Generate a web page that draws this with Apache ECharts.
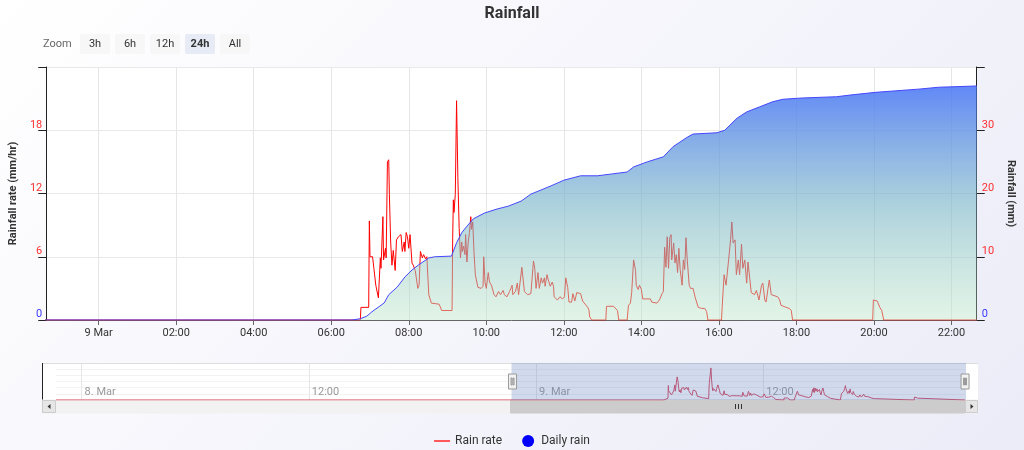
<!DOCTYPE html>
<html><head><meta charset="utf-8">
<script src="https://cdn.jsdelivr.net/npm/echarts@6/dist/echarts.min.js"></script>
<style>
html,body{margin:0;padding:0;}
#c{width:1024px;height:450px;background:linear-gradient(135deg,#ffffff 0%,#f3f3fb 60%,#ececf8 100%);}
</style>
</head><body><div id="c"></div>
<script>
// ---- data (times are minutes relative to 9 Mar 00:00) ----
const navStartMin = -1521;   // 7 Mar 22:39
const winStartMin = -81;     // 8 Mar 22:39
const winEndMin = 1359;      // 9 Mar 22:39

const rateMinutes = [-1521,
 405,406,418,419,420,424,426,429,433,436,437,440,441,444,445,447,449,450,452,454,456,459,461,464,468,470,473,474,476,478,480,482,485,487,490,494,496,498,501,503,506,508,511,515,527,531,547,
 548,549,550,552,554,555,556,558,560,562,563,565,567,568,570,572,574,576,577,579,581,583,587,592,595,596,598,600,603,605,608,612,615,619,622,626,628,632,636,640,641,645,648,650,653,655,658,659,664,669,673,675,677,680,682,685,687,690,691,694,696,699,702,704,705,710,714,718,721,723,726,728,732,734,737,740,743,746,749,753,757,759,760,763,
 785,786,797,800,803,805,
 818,820,823,825,828,831,832,835,837,840,842,854,856,864,868,872,874,876,878,880,882,884,886,887,890,892,894,896,898,900,903,905,907,909,911,914,916,920,923,928,933,938,941,943,
 964,965,968,971,973,975,977,978,980,982,985,987,990,992,995,997,1000,1003,1005,1008,1010,1015,1018,1022,1026,1028,1031,1033,1036,1038,1041,1051,1054,1056,1064,1069,1072,1074,
 1198,1199,1205,1209,1212,1215,1359];
const rateValues = [0,
 0,1.2,1.2,9.4,6.0,6.0,4.9,3.3,2.1,5.9,4.9,9.8,5.7,6.8,5.9,15.0,15.2,11.9,7.4,5.2,6.6,4.7,7.6,7.9,8.1,6.5,7.4,6.5,8.3,7.9,6.8,8.1,5.4,5.2,4.7,3.0,3.3,6.5,5.9,6.2,5.8,6.0,2.4,1.6,1.5,0.9,0.9,
 7.8,11.4,10.2,11.9,20.8,20.8,13.5,8.7,5.9,7.4,6.5,7.0,6.2,8.1,5.5,7.4,8.3,9.8,8.6,9.3,6.4,4.3,3.1,3.0,3.2,6.0,3.6,3.0,4.5,3.6,3.3,2.4,2.2,2.7,2.4,2.8,2.4,2.2,2.7,3.3,2.4,2.7,3.5,2.4,2.4,5.0,5.0,2.7,2.4,2.5,5.6,4.9,3.0,4.5,3.0,4.0,3.5,4.0,3.2,4.3,3.8,3.2,3.6,3.2,2.2,1.9,2.2,2.0,2.2,4.0,3.1,1.7,1.7,2.5,1.8,2.6,2.6,2.5,1.8,1.5,1.2,0.9,0.3,0,
 0,1.3,1.3,1.2,0.9,0,
 0,1.4,1.6,2.6,5.7,4.7,3.3,2.9,3.3,2.9,2.0,2.0,1.7,1.6,1.9,2.5,2.7,6.9,5.0,7.9,4.9,7.8,8.1,5.7,7.3,5.4,6.2,4.5,6.8,4.8,3.3,5.7,4.8,7.8,5.7,3.3,3.0,3.0,2.2,1.2,1.1,1.1,0.8,0,
 0,1.2,4.3,3.3,3.3,5.7,5.8,7.6,9.3,7.3,7.6,4.3,5.7,4.3,7.2,4.9,5.7,3.5,5.5,3.8,2.6,2.4,2.8,1.9,3.3,3.5,1.9,1.7,3.0,3.8,2.4,2.2,1.9,1.4,1.2,1.1,0.9,0,
 0,1.9,1.8,1.2,0.9,0,0];

const rainMinutes = [-1521,392,405,415,423,442,449,462,474,485,495,511,520,546,548,554,562,569,580,597,615,634,654,669,700,720,746,772,795,818,828,849,874,889,911,920,957,969,988,1003,1023,1043,1059,1089,1142,1166,1203,1269,1300,1359];
const rainValues = [0,0,0.2,0.6,1.3,2.7,4.0,5.2,6.8,7.9,8.7,9.8,10.0,10.1,10.1,12.2,13.8,14.7,16.0,16.9,17.5,18.0,18.8,19.9,21.2,22.1,22.8,22.8,23.1,23.4,24.2,25.0,25.8,27.4,28.9,29.4,29.6,30.0,31.9,32.9,33.7,34.5,34.9,35.1,35.3,35.6,36.0,36.5,36.8,37.0];

const mainTickHours = [0, 2, 4, 6, 8, 10, 12, 14, 16, 18, 20, 22];
const navTickHours = [-24, -12, 0, 12];
const leftTickValues = [0, 6, 12, 18, 24];
const leftLabelValues = [0, 6, 12, 18];
const rightTickValues = [0, 10, 20, 30, 40];
const rightLabelValues = [0, 10, 20, 30];
const zoomButtons = ['3h', '6h', '12h', '24h', 'All'];
const zoomSelected = '24h';
const seriesNames = ['Rain rate', 'Daily rain'];
const titleText = 'Rainfall';
const leftAxisName = 'Rainfall rate (mm/hr)';
const rightAxisName = 'Rainfall (mm)';

// ---- build ----
const rateData = rateMinutes.map((m, i) => [m, rateValues[i]]);
const rainData = rainMinutes.map((m, i) => [m, rainValues[i]]);
const mainTicks = mainTickHours.map(h => h * 60);
const navTicks = navTickHours.map(h => h * 60);
const pad = n => (n < 10 ? '0' : '') + n;
const FONT = 'Roboto';

function splitMin(v) {
  const dayOff = Math.floor(v / 1440);
  const r = Math.round(v - dayOff * 1440);
  return { day: 9 + dayOff, h: Math.floor(r / 60), m: r % 60 };
}
function mainLabel(v) {
  const s = splitMin(v);
  if (s.h === 0 && s.m === 0) return s.day + ' Mar';
  return pad(s.h) + ':' + pad(s.m);
}
function navLabel(v) {
  const s = splitMin(v);
  if (s.h === 0 && s.m === 0) return s.day + '. Mar';
  return pad(s.h) + ':' + pad(s.m);
}
const yRich = {
  r: { color: '#ff3030', fontSize: 11, fontFamily: FONT },
  b: { color: '#3a3aff', fontSize: 11, fontFamily: FONT }
};
const yFmt = v => (v === 0 ? '{b|0}' : '{r|' + v + '}');

const chart = echarts.init(document.getElementById('c'), null, { renderer: 'canvas' });
const option = {
  animation: false,
  backgroundColor: 'transparent',
  title: {
    text: titleText, left: 'center', top: 1,
    textStyle: { fontFamily: FONT, fontSize: 16, fontWeight: 'bold', color: '#333' }
  },
  legend: {
    top: 430, left: 'center', itemWidth: 16, itemHeight: 12, itemGap: 20,
    textStyle: { fontFamily: FONT, fontSize: 12, color: '#333' },
    data: [
      { name: seriesNames[0], icon: 'path://M0,0H16V2H0Z', itemStyle: { color: '#ff5a5a' } },
      { name: seriesNames[1], icon: 'circle', itemStyle: { color: '#0000ff' } }
    ]
  },
  grid: [
    { left: 42, right: 46, top: 67, height: 253, show: true, backgroundColor: '#ffffff', borderWidth: 0 },
    { left: 56, width: 909, top: 363, height: 37, show: false }
  ],
  xAxis: [
    {
      type: 'value', gridIndex: 0, min: navStartMin, max: winEndMin, scale: true,
      axisLine: { show: true, onZero: false, lineStyle: { color: '#666', width: 1 } },
      axisTick: { show: true, customValues: mainTicks, length: 5, lineStyle: { color: '#666' } },
      axisLabel: { customValues: mainTicks, formatter: mainLabel, color: '#333', fontSize: 11, fontFamily: FONT, margin: 8, hideOverlap: false },
      splitLine: { show: true, customValues: mainTicks, lineStyle: { color: '#e6e6e6', width: 1 } }
    },
    {
      type: 'value', gridIndex: 1, min: navStartMin, max: winEndMin, scale: true,
      axisLine: { show: false, onZero: false }, axisTick: { show: false, customValues: navTicks },
      axisLabel: { customValues: navTicks, inside: true, formatter: navLabel, color: '#999', fontSize: 11, fontFamily: FONT,
        align: 'left', verticalAlign: 'bottom', padding: [0, 0, 0, 3], margin: 2 },
      splitLine: { show: true, customValues: navTicks, lineStyle: { color: '#e6e6e6', width: 1 } }
    }
  ],
  yAxis: [
    {
      type: 'value', gridIndex: 0, position: 'left', min: 0, max: 24, interval: 1.2,
      name: leftAxisName, nameLocation: 'middle', nameGap: 24, nameRotate: 90,
      nameTextStyle: { fontFamily: FONT, fontSize: 11, fontWeight: 'bold', color: '#333' },
      axisLine: { show: true, onZero: false, lineStyle: { color: '#222', width: 1 } },
      axisTick: { show: true, customValues: leftTickValues, length: 8, lineStyle: { color: '#222' } },
      axisLabel: { customValues: leftLabelValues, formatter: yFmt, rich: yRich, margin: 4, verticalAlign: 'bottom' },
      splitLine: { show: true, lineStyle: { color: '#e9e9e9', width: 1 } }
    },
    {
      type: 'value', gridIndex: 0, position: 'right', min: 0, max: 40, interval: 2,
      name: rightAxisName, nameLocation: 'middle', nameGap: 24, nameRotate: -90,
      nameTextStyle: { fontFamily: FONT, fontSize: 11, fontWeight: 'bold', color: '#333' },
      axisLine: { show: true, onZero: false, lineStyle: { color: '#222', width: 1 } },
      axisTick: { show: true, customValues: rightTickValues, length: 8, lineStyle: { color: '#222' } },
      axisLabel: { customValues: rightLabelValues, formatter: yFmt, rich: yRich, margin: 5, verticalAlign: 'bottom' },
      splitLine: { show: false }
    },
    {
      type: 'value', gridIndex: 1, min: 0, max: 24, interval: 4,
      axisLine: { show: false, onZero: false }, axisTick: { show: false }, axisLabel: { show: false },
      splitLine: { show: true, lineStyle: { color: '#f3f3f3', width: 1 } }
    }
  ],
  dataZoom: [{
    type: 'slider', xAxisIndex: 0, filterMode: 'none',
    startValue: winStartMin, endValue: winEndMin,
    left: 56, width: 909, top: 363, height: 37,
    backgroundColor: 'rgba(0,0,0,0)', borderColor: 'rgba(0,0,0,0)',
    fillerColor: 'rgba(102,133,194,0.3)',
    showDataShadow: false, showDetail: false, brushSelect: false,
    moveHandleSize: 0, moveHandleStyle: { opacity: 0 },
    handleIcon: 'path://M0,0H8V15H0Z M2.5,4H3.5V11H2.5Z M4.5,4H5.5V11H4.5Z',
    handleSize: 15,
    handleStyle: { color: '#f2f2f2', borderColor: '#999999', borderWidth: 1 },
    emphasis: { handleStyle: { color: '#f2f2f2', borderColor: '#999999' }, moveHandleStyle: { opacity: 0 } },
    dataBackground: { lineStyle: { opacity: 0 }, areaStyle: { opacity: 0 } },
    selectedDataBackground: { lineStyle: { opacity: 0 }, areaStyle: { opacity: 0 } }
  }],
  series: [
    {
      name: seriesNames[0], type: 'line', xAxisIndex: 0, yAxisIndex: 0, data: rateData,
      symbol: 'none', lineStyle: { color: '#ff0000', width: 1 }, itemStyle: { color: '#ff5a5a' },
      z: 2
    },
    {
      name: seriesNames[1], type: 'line', xAxisIndex: 0, yAxisIndex: 1, data: rainData,
      symbol: 'none', lineStyle: { color: '#4646ff', width: 1 }, itemStyle: { color: '#0000ff' },
      areaStyle: {
        opacity: 1,
        color: new echarts.graphic.LinearGradient(0, 0, 0, 1, [
          { offset: 0, color: 'rgba(75,120,245,0.88)' },
          { offset: 0.5, color: 'rgba(120,180,200,0.62)' },
          { offset: 1, color: 'rgba(190,230,200,0.45)' }
        ])
      },
      z: 3
    },
    {
      name: 'navigator', type: 'line', xAxisIndex: 1, yAxisIndex: 2, data: rateData,
      symbol: 'none', lineStyle: { color: '#d8455a', width: 1 }, silent: true, z: 2
    }
  ]
};
chart.setOption(option);

// ---- decorations: range selector, navigator frame, scrollbar ----
const x0 = chart.convertToPixel({ xAxisIndex: 1 }, winStartMin);
const x1 = chart.convertToPixel({ xAxisIndex: 1 }, winEndMin);
const g = [];
g.push({ type: 'text', x: 43, y: 44, style: { text: 'Zoom', fill: '#666', font: '11px Roboto', align: 'left', verticalAlign: 'middle' } });
zoomButtons.forEach((b, i) => {
  const sel = b === zoomSelected;
  g.push({ type: 'rect', shape: { x: 80 + i * 35, y: 34, width: 30, height: 20, r: 2 },
    style: { fill: sel ? '#e6ebf5' : '#f7f7f7' } });
  g.push({ type: 'text', x: 95 + i * 35, y: 44,
    style: { text: b, fill: '#333', font: (sel ? 'bold ' : '') + '11px Roboto', align: 'center', verticalAlign: 'middle' } });
});
// navigator frame
g.push({ type: 'rect', z: -10, shape: { x: 42, y: 363, width: 936, height: 37 }, style: { fill: '#ffffff' } });
g.push({ type: 'line', shape: { x1: 42, y1: 363.5, x2: 978, y2: 363.5 }, style: { stroke: '#dddddd', lineWidth: 1 } });
g.push({ type: 'line', shape: { x1: 42.5, y1: 363, x2: 42.5, y2: 400 }, style: { stroke: '#222', lineWidth: 1 } });
// scrollbar
g.push({ type: 'rect', shape: { x: 42, y: 400, width: 936, height: 13 }, style: { fill: '#f2f2f2', stroke: '#f2f2f2' } });
g.push({ type: 'rect', shape: { x: x0, y: 400, width: x1 - x0, height: 13 }, style: { fill: '#cccccc', stroke: '#cccccc' } });
const cx = Math.round((x0 + x1) / 2) + 0.5;
[-3, 0, 3].forEach(d => g.push({ type: 'line', shape: { x1: cx + d, y1: 404, x2: cx + d, y2: 409 }, style: { stroke: '#333', lineWidth: 1 } }));
g.push({ type: 'rect', shape: { x: 42.5, y: 400.5, width: 13, height: 12 }, style: { fill: '#e6e6e6', stroke: '#cccccc' } });
g.push({ type: 'polygon', shape: { points: [[47.5, 406.5], [50.5, 404], [50.5, 409]] }, style: { fill: '#333' } });
g.push({ type: 'rect', shape: { x: 965.5, y: 400.5, width: 12, height: 12 }, style: { fill: '#e6e6e6', stroke: '#cccccc' } });
g.push({ type: 'polygon', shape: { points: [[973.5, 406.5], [970.5, 404], [970.5, 409]] }, style: { fill: '#333' } });
chart.setOption({ graphic: g });
</script>
</body></html>
